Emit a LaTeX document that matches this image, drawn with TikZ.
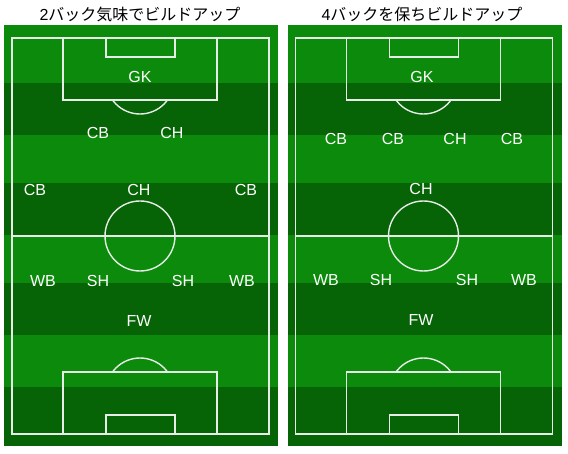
\documentclass[tikz,border=0pt]{standalone}
\usepackage{fontspec}
\setmainfont{Liberation Sans}
\newfontfamily\jp{Noto Sans CJK JP}
\usepackage{tikz}
\usetikzlibrary{positioning}
\definecolor{turf}{RGB}{12,138,12}
\definecolor{turfdark}{RGB}{6,99,6}
\definecolor{chalk}{RGB}{232,236,232}
\tikzstyle{pitchline} = [draw=chalk, line width=1.4pt]
\tikzstyle{player} = [text=white, inner sep=0pt, font=\fontsize{16}{16}\selectfont]
\tikzstyle{heading} = [inner sep=0pt, font=\fontsize{16}{16}\selectfont]

\begin{document}
\begin{tikzpicture}[x=1pt, y=-1pt]
\useasboundingbox (0,0) rectangle (568,454);
\fill[white] (0,0) rectangle (568,454);
\foreach \ox in {0,283.5} {
  \begin{scope}[xshift=\ox pt]
  % stripes
  \foreach \a/\b/\c in {25/83/turf, 83/135/turfdark, 135/183/turf, 183/235/turfdark,
      235/283/turf, 283/335/turfdark, 335/387/turf, 387/446/turfdark}
    \fill[\c] (4,\a) rectangle (278,\b);
  % markings
  \draw[pitchline] (12,38) rectangle (269,434);
  \draw[pitchline] (12,236) -- (269,236);
  \draw[pitchline] (140,236) circle (35pt);
  \draw[pitchline] (63,38) rectangle (217,100);
  \draw[pitchline] (106,38) rectangle (175,57);
  \draw[pitchline] (63,434) rectangle (217,372);
  \draw[pitchline] (106,434) rectangle (175,415);
  \begin{scope}
    \clip (63,100) rectangle (217,130);
    \draw[pitchline] (140,80) circle (34pt);
  \end{scope}
  \begin{scope}
    \clip (63,340) rectangle (217,372);
    \draw[pitchline] (140,392) circle (34pt);
  \end{scope}
  \end{scope}
}

% 2 backs
\node (title2) [heading] at (140,14) {2{\jp バック気味でビルドアップ}};
\node (gk2) [player] at (140,77) {GK};
\node (cb2l) [player] at (98,133) {CB};
\node (ch2r) [player] at (172,133) {CH};
\node (cb2ll) [player] at (35,190) {CB};
\node (ch2) [player] at (139,190) {CH};
\node (cb2rr) [player] at (246,190) {CB};
\node (wb2l) [player] at (43,281) {WB};
\node (sh2l) [player] at (98,281) {SH};
\node (sh2r) [player] at (183,281) {SH};
\node (wb2r) [player] at (242,281) {WB};
\node (fw2) [player] at (139,321) {FW};

% 4 backs
\node (title4) [heading] at (422,14) {4{\jp バックを保ちビルドアップ}};
\node (gk4) [player] at (422,77) {GK};
\node (cb4ll) [player] at (336,139) {CB};
\node (cb4l) [player] at (393,139) {CB};
\node (ch4r) [player] at (455,139) {CH};
\node (cb4rr) [player] at (512,139) {CB};
\node (ch4) [player] at (421,189) {CH};
\node (wb4l) [player] at (326,280) {WB};
\node (sh4l) [player] at (381,280) {SH};
\node (sh4r) [player] at (467,280) {SH};
\node (wb4r) [player] at (524,280) {WB};
\node (fw4) [player] at (421,320) {FW};
\end{tikzpicture}
\end{document}
